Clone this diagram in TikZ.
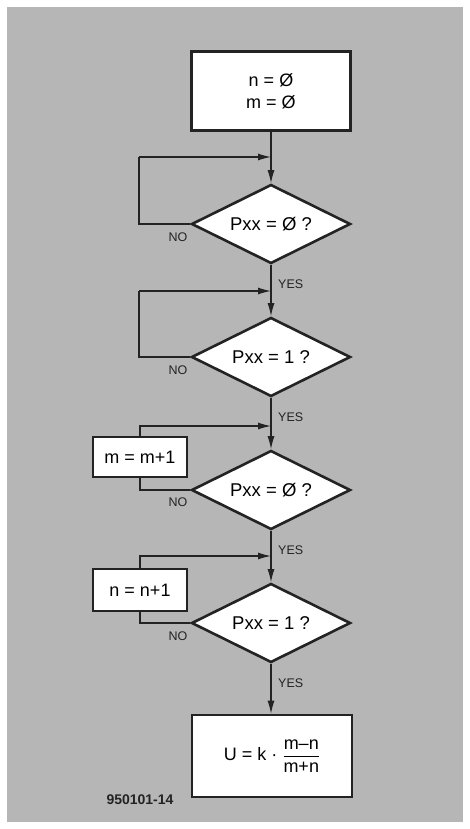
\documentclass[tikz,border=0pt]{standalone}
\usepackage{fontspec}
\setmainfont{Liberation Sans}
\usetikzlibrary{shapes.geometric,arrows.meta}
\definecolor{bggray}{RGB}{182,182,182}
\definecolor{ink}{RGB}{35,35,35}
\tikzset{
  conn/.style={draw=ink, line width=1.2pt},
  arr/.style={conn, -{Latex[length=13pt,width=7pt]}},
  procbox/.style={draw=ink, fill=white, line width=2.6pt, inner sep=0pt, align=center,
     font=\fontsize{18}{22}\selectfont},
  decision/.style={diamond, aspect=2, draw=ink, fill=white, line width=2.6pt, inner sep=0pt,
     minimum width=159pt, minimum height=79pt, font=\fontsize{18.5}{20}\selectfont},
  lbl/.style={font=\fontsize{12.5}{14}\selectfont, text=ink, inner sep=0pt}
}
\begin{document}
\begin{tikzpicture}[x=1pt,y=-1pt]
\useasboundingbox (0,0) rectangle (469,829);
\fill[white] (0,0) rectangle (469,829);
\fill[bggray] (7,7) rectangle (463,822);

% nodes
\node[procbox, minimum width=159pt, minimum height=79pt] (init) at (271,91) {n = Ø\\m = Ø};
\node[decision] (d1) at (271,224) {Pxx = Ø ?};
\node[decision] (d2) at (271,357) {Pxx = 1 ?};
\node[decision] (d3) at (271,490) {Pxx = Ø ?};
\node[decision] (d4) at (271,623) {Pxx = 1 ?};
\node[procbox, minimum width=94pt, minimum height=40pt] (mbox) at (140,457) {m = m+1};
\node[procbox, minimum width=94pt, minimum height=42pt] (nbox) at (140,590) {n = n+1};
\node[procbox, minimum width=160pt, minimum height=82pt] (res) at (272,756)
  {U = k · $\displaystyle\frac{\mbox{m–n}}{\mbox{m+n}}$};

% join coordinates on the main line
\coordinate (j1) at (271,157);
\coordinate (j2) at (271,291);
\coordinate (j3) at (271,426);
\coordinate (j4) at (271,556);
\coordinate (l1) at (139,157);
\coordinate (l2) at (139,291);

% main flow
\draw[arr] (init.south) -- (d1.north);
\draw[arr] (d1.south) -- (d2.north);
\draw[arr] (d2.south) -- (d3.north);
\draw[arr] (d3.south) -- (d4.north);
\draw[arr] (d4.south) -- (res.north -| d4.south);

% loops
\draw[conn] (d1.west) -| (l1);
\draw[arr] (l1) -- (j1);
\draw[conn] (d2.west) -| (l2);
\draw[arr] (l2) -- (j2);
\draw[conn] (d3.west) -| (mbox.south);
\draw[arr] (mbox.north) |- (j3);
\draw[conn] (d4.west) -| (nbox.south);
\draw[arr] (nbox.north) |- (j4);

% labels
\node[lbl] (no1) at (178,237) {NO};
\node[lbl] (no2) at (178,370) {NO};
\node[lbl] (no3) at (178,502) {NO};
\node[lbl] (no4) at (178,636) {NO};
\node[lbl, anchor=west] (yes1) at (278,284) {YES};
\node[lbl, anchor=west] (yes2) at (278,417) {YES};
\node[lbl, anchor=west] (yes3) at (278,550) {YES};
\node[lbl, anchor=west] (yes4) at (278,683) {YES};
\node[font=\bfseries\fontsize{14}{16}\selectfont, text=ink, inner sep=0pt] (fig) at (140,800) {950101-14};
\end{tikzpicture}
\end{document}
